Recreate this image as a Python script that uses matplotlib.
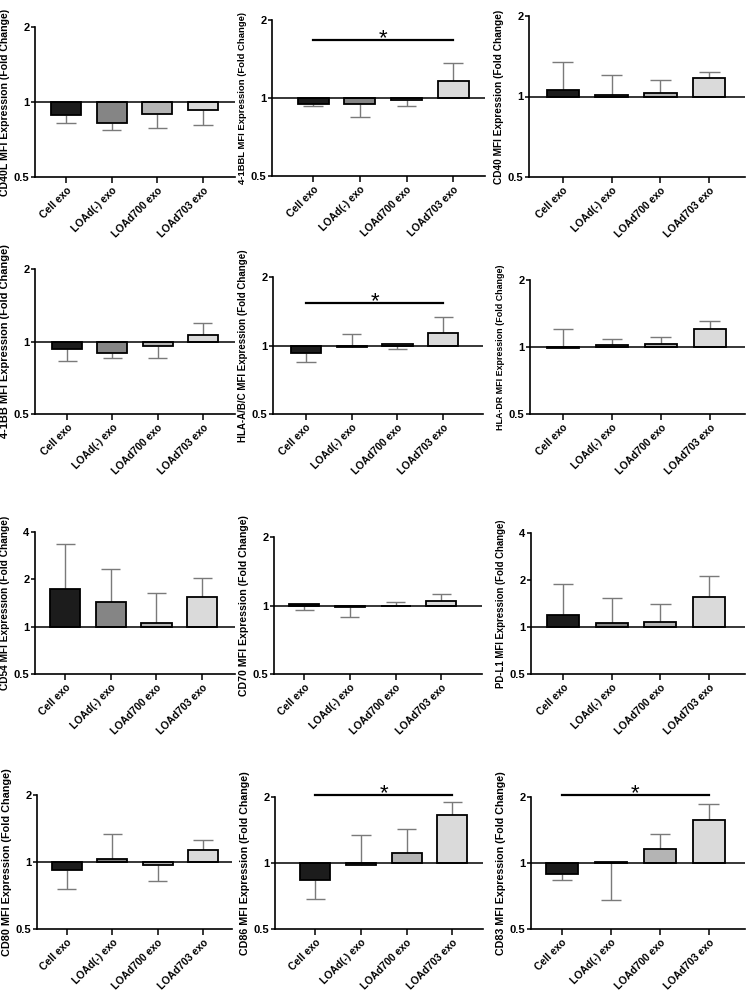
import numpy as np
import matplotlib
matplotlib.use("Agg")
import matplotlib.pyplot as plt
from matplotlib.ticker import FixedLocator, FixedFormatter, NullLocator

plt.rcParams["font.family"] = ["Liberation Sans", "DejaVu Sans"]
plt.rcParams["font.weight"] = "bold"

groups = ["Cell exo", "LOAd(-) exo", "LOAd700 exo", "LOAd703 exo"]
bar_colors = ["#1c1c1c", "#858585", "#b4b4b4", "#dadada"]

markers = ["CD40L", "4-1BBL", "CD40", "4-1BB", "HLA-A/B/C", "HLA-DR",
           "CD54", "CD70", "PD-L1", "CD80", "CD86", "CD83"]

# fold change (bar value) and end of the error bar for each group
cd40l_mean = [0.883, 0.82, 0.894, 0.93]
cd40l_err = [0.82, 0.77, 0.79, 0.805]
bbl_mean = [0.945, 0.945, 0.98, 1.16]
bbl_err = [0.93, 0.846, 0.934, 1.37]
cd40_mean = [1.06, 1.01, 1.03, 1.17]
cd40_err = [1.35, 1.2, 1.157, 1.24]
bb_mean = [0.935, 0.90, 0.956, 1.06]
bb_err = [0.826, 0.856, 0.853, 1.19]
hla_abc_mean = [0.93, 0.986, 1.012, 1.13]
hla_abc_err = [0.845, 1.118, 0.97, 1.33]
hla_dr_mean = [0.99, 1.02, 1.03, 1.2]
hla_dr_err = [1.2, 1.09, 1.11, 1.31]
cd54_mean = [1.74, 1.43, 1.06, 1.54]
cd54_err = [3.37, 2.33, 1.63, 2.03]
cd70_mean = [1.014, 0.986, 0.99, 1.045]
cd70_err = [0.957, 0.894, 1.038, 1.125]
pdl1_mean = [1.19, 1.06, 1.08, 1.56]
pdl1_err = [1.895, 1.53, 1.41, 2.11]
cd80_mean = [0.92, 1.035, 0.97, 1.13]
cd80_err = [0.76, 1.34, 0.82, 1.26]
cd86_mean = [0.836, 0.983, 1.11, 1.66]
cd86_err = [0.688, 1.34, 1.43, 1.90]
cd83_mean = [0.888, 1.01, 1.157, 1.57]
cd83_err = [0.834, 0.68, 1.354, 1.85]

means = [cd40l_mean, bbl_mean, cd40_mean, bb_mean, hla_abc_mean, hla_dr_mean,
         cd54_mean, cd70_mean, pdl1_mean, cd80_mean, cd86_mean, cd83_mean]
errs = [cd40l_err, bbl_err, cd40_err, bb_err, hla_abc_err, hla_dr_err,
        cd54_err, cd70_err, pdl1_err, cd80_err, cd86_err, cd83_err]

y_top = [2, 2, 2, 2, 2, 2, 4, 2, 4, 2, 2, 2]
# height of the "*" bracket (Cell exo vs LOAd703 exo), None = no bracket
sig_height = [None, 1.67, None, None, 1.54, None, None, None, None, None, 2.04, 2.05]

# axes boxes in pixels: left, right, top, bottom
W, H = 747, 992
boxes = [(35, 235, 27, 177), (272, 485, 20, 176), (529, 745, 16, 177),
         (35, 235, 269, 414), (273, 483, 277, 414), (530, 745, 280, 414),
         (35, 235, 532, 674), (274, 482, 537, 674), (531, 745, 533, 674),
         (37, 232, 795, 929), (275, 483, 797, 929), (531, 745, 797, 929)]
x_left = [-0.68, -0.88, -0.69, -0.71, -0.72, -0.67,
          -0.66, -0.66, -0.66, -0.66, -0.88, -0.63]
x_right = [3.70, 3.68, 3.73, 3.71, 3.87, 3.72,
           3.72, 3.89, 3.74, 3.64, 3.67, 3.74]
label_size = [7.6, 6.8, 7.3, 7.9, 7.0, 6.4, 7.3, 7.6, 6.9, 7.8, 7.7, 7.7]

fig = plt.figure(figsize=(W / 100, H / 100), dpi=100)

x = np.arange(len(groups))
for i, name in enumerate(markers):
    l, r, t, b = boxes[i]
    ax = fig.add_axes([l / W, 1 - b / H, (r - l) / W, (b - t) / H])
    mean = np.array(means[i])
    err = np.array(errs[i])

    ax.vlines(x, mean, err, color="#7a7a7a", lw=1.0, zorder=1)
    ax.hlines(err, x - 0.21, x + 0.21, color="#7a7a7a", lw=1.0, zorder=1)
    ax.bar(x, mean - 1, bottom=1, width=0.66, color=bar_colors,
           edgecolor="black", linewidth=1.3, zorder=2)
    ax.axhline(1, color="black", lw=1.1, zorder=3)

    ax.set_yscale("log", base=2)
    ax.set_ylim(0.5, y_top[i])
    ax.set_xlim(x_left[i], x_right[i])
    yt = [0.5, 1, 2] if y_top[i] == 2 else [0.5, 1, 2, 4]
    ax.yaxis.set_major_locator(FixedLocator(yt))
    ax.yaxis.set_major_formatter(FixedFormatter([f"{v:g}" for v in yt]))
    ax.yaxis.set_minor_locator(NullLocator())
    ax.set_xticks(x)
    ax.set_xticklabels(groups, rotation=45, ha="right",
                       rotation_mode="anchor", fontsize=7.5, fontweight="bold")
    ax.tick_params(axis="y", labelsize=8, length=3, width=1.1, pad=1)
    ax.tick_params(axis="x", length=4, width=1.1, pad=2)
    for s in ["top", "right"]:
        ax.spines[s].set_visible(False)
    for s in ["left", "bottom"]:
        ax.spines[s].set_linewidth(1.2)
    ax.set_ylabel(name + " MFI Expression (Fold Change)",
                  fontsize=label_size[i], fontweight="bold", labelpad=3)

    if sig_height[i] is not None:
        h = sig_height[i]
        ax.plot([x[0], x[-1]], [h, h], color="black", lw=1.6, clip_on=False)
        ax.annotate("*", xy=((x[0] + x[-1]) / 2, h), xytext=(0, -3),
                    textcoords="offset points", ha="center", va="baseline",
                    fontsize=16, fontweight="normal", annotation_clip=False)

fig.savefig("out.png", dpi=100)
